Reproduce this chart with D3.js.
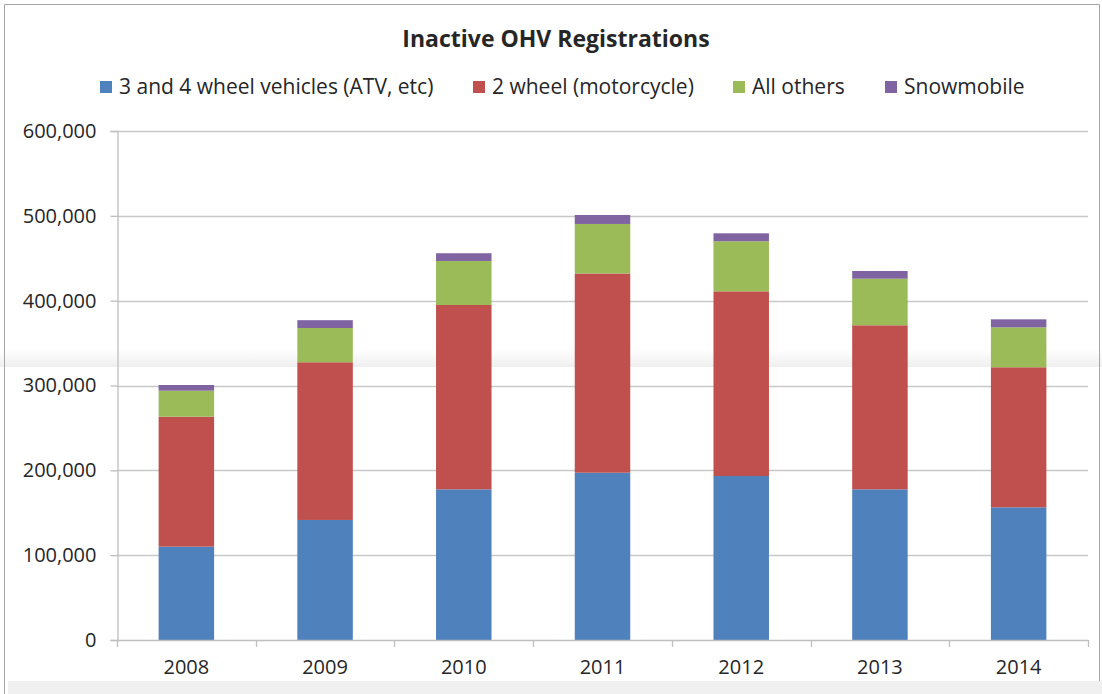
<!DOCTYPE html>
<html>
<head>
<meta charset="utf-8">
<script src="https://cdn.jsdelivr.net/npm/d3@7"></script>
<style>
  body { margin: 0; background: #fff; }
  text { font-family: "Open Sans", "Noto Sans", sans-serif; fill: #262626; }
</style>
</head>
<body>
<div id="chart"></div>
<script>
var years = ["2008", "2009", "2010", "2011", "2012", "2013", "2014"];
var seriesNames = ["3 and 4 wheel vehicles (ATV, etc)", "2 wheel (motorcycle)", "All others", "Snowmobile"];
var atv = [110000, 141500, 177600, 197200, 193300, 177600, 156400];
var motorcycle = [153200, 185900, 217300, 234800, 217700, 193400, 165100];
var allOthers = [30700, 40400, 51900, 58400, 59000, 54900, 47100];
var snowmobile = [6700, 9200, 9100, 10600, 9400, 9100, 9400];
var yTicks = [0, 100000, 200000, 300000, 400000, 500000, 600000];
var colors = ["#4f81bd", "#c0504d", "#9bbb59", "#8064a2"];

var svgWidth = 1102;
var svgHeight = 694;
var plot = { left: 117, right: 1088, top: 131, bottom: 640 };

var svg = d3.select("#chart")
  .append("svg")
  .attr("width", svgWidth)
  .attr("height", svgHeight);

// screenshot artefacts: shaded seam and bottom strip
var defs = svg.append("defs");
var grad = defs.append("linearGradient")
  .attr("id", "seam")
  .attr("x1", 0).attr("y1", 0).attr("x2", 0).attr("y2", 1);
grad.append("stop").attr("offset", "0%").attr("stop-color", "#ffffff");
grad.append("stop").attr("offset", "100%").attr("stop-color", "#efefef");

svg.append("rect")
  .attr("x", 0).attr("y", 349)
  .attr("width", svgWidth).attr("height", 18)
  .attr("fill", "url(#seam)");

svg.append("rect")
  .attr("x", 8).attr("y", 681)
  .attr("width", svgWidth - 8).attr("height", 13)
  .attr("fill", "#f0f0f0");

// chart border
svg.append("path")
  .attr("d", "M4.5,694 V4.5 H1099.5 V681")
  .attr("fill", "none")
  .attr("stroke", "#a6a6a6")
  .attr("stroke-width", 1);

var data = years.map(function (y, i) {
  return { year: y, a: atv[i], b: motorcycle[i], c: allOthers[i], d: snowmobile[i] };
});

var stack = d3.stack().keys(["a", "b", "c", "d"]);
var stacked = stack(data);

var x = d3.scaleBand()
  .domain(years)
  .range([plot.left, plot.right])
  .paddingInner(0.6)
  .paddingOuter(0.3);

var y = d3.scaleLinear()
  .domain([0, 600000])
  .range([plot.bottom, plot.top]);

// gridlines
svg.append("g")
  .selectAll("line")
  .data(yTicks.slice(1))
  .enter()
  .append("line")
  .attr("x1", plot.left)
  .attr("x2", plot.right)
  .attr("y1", function (d) { return Math.round(y(d)) + 0.5; })
  .attr("y2", function (d) { return Math.round(y(d)) + 0.5; })
  .attr("stroke", "#c8c8c8")
  .attr("stroke-width", 1.3);

// bars
svg.append("g")
  .selectAll("g")
  .data(stacked)
  .enter()
  .append("g")
  .attr("fill", function (d, i) { return colors[i]; })
  .selectAll("rect")
  .data(function (d) { return d; })
  .enter()
  .append("rect")
  .attr("x", function (d) { return x(d.data.year); })
  .attr("width", x.bandwidth())
  .attr("y", function (d) { return y(d[1]); })
  .attr("height", function (d) { return y(d[0]) - y(d[1]); });

// y axis
var leftAxis = d3.axisLeft(y)
  .tickValues(yTicks)
  .tickSize(7)
  .tickPadding(14)
  .tickFormat(d3.format(","));

var yAxis = svg.append("g")
  .attr("transform", "translate(" + (plot.left + 0.5) + ",0)")
  .call(leftAxis);
yAxis.select(".domain").attr("stroke", "#bfbfbf").attr("stroke-width", 1.3);
yAxis.selectAll(".tick line").attr("stroke", "#bfbfbf").attr("stroke-width", 1.3);
yAxis.selectAll(".tick text")
  .style("font-size", "20px")
  .attr("fill", "#262626");

// x axis with ticks at band boundaries
var xAxisG = svg.append("g");
xAxisG.append("line")
  .attr("x1", plot.left).attr("x2", plot.right)
  .attr("y1", plot.bottom + 0.5).attr("y2", plot.bottom + 0.5)
  .attr("stroke", "#bfbfbf").attr("stroke-width", 1.3);
var bounds = d3.range(years.length + 1).map(function (i) { return plot.left + i * x.step(); });
xAxisG.selectAll("line.tk")
  .data(bounds)
  .enter()
  .append("line")
  .attr("class", "tk")
  .attr("x1", function (d) { return Math.round(d) + 0.5; })
  .attr("x2", function (d) { return Math.round(d) + 0.5; })
  .attr("y1", plot.bottom)
  .attr("y2", plot.bottom + 7)
  .attr("stroke", "#bfbfbf").attr("stroke-width", 1.3);
xAxisG.selectAll("text")
  .data(years)
  .enter()
  .append("text")
  .attr("x", function (d) { return x(d) + x.bandwidth() / 2; })
  .attr("y", 674)
  .attr("text-anchor", "middle")
  .style("font-size", "20px")
  .text(function (d) { return d; });

// title
svg.append("text")
  .attr("x", 556)
  .attr("y", 47)
  .attr("text-anchor", "middle")
  .style("font-size", "23px")
  .style("font-weight", "bold")
  .text("Inactive OHV Registrations");

// legend
var legendX = [100, 473, 733, 885];
var legend = svg.append("g")
  .selectAll("g")
  .data(seriesNames)
  .enter()
  .append("g")
  .attr("transform", function (d, i) { return "translate(" + legendX[i] + ",81)"; });
legend.append("rect")
  .attr("width", 12).attr("height", 12)
  .attr("fill", function (d, i) { return colors[i]; });
legend.append("text")
  .attr("x", 19)
  .attr("y", 13)
  .style("font-size", "21px")
  .text(function (d) { return d; });
</script>
</body>
</html>
